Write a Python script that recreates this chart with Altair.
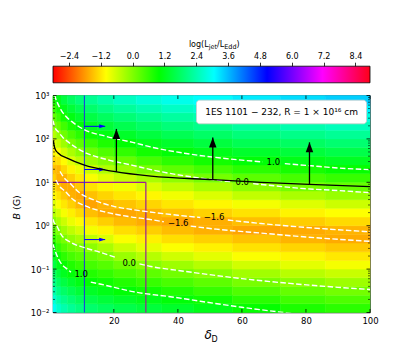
import altair as alt
import pandas as pd

FONT = "DejaVu Sans"
W, H = 317, 217

# ---------------- heat map: log(Ljet/LEdd) ----------------
delta_edges = [1, 2, 3.5, 5.5, 8, 11, 15, 20, 27, 35, 45, 57, 72, 86, 100]
logB_edges = [-2.0, -1.8, -1.6, -1.4, -1.2, -1.0, -0.8, -0.6, -0.4, -0.2, 0.0,
              0.2, 0.4, 0.6, 0.8, 1.0, 1.2, 1.4, 1.6, 1.8, 2.0, 2.2, 2.4, 2.6, 2.8, 3.0]

ljet_d01 = [3.00, 2.71, 2.42, 2.13, 1.84, 1.55, 1.26, 0.97, 0.63, 0.30, -0.04, -0.39, -0.75, -1.05, -1.20, -1.35, -1.50, -1.30, -1.10, -0.81, -0.42, -0.04, 0.25, 0.52, 0.79]
ljet_d02 = [2.65, 2.36, 2.07, 1.78, 1.49, 1.20, 0.91, 0.61, 0.31, 0.01, -0.32, -0.65, -0.97, -1.21, -1.45, -1.63, -1.57, -1.27, -0.97, -0.57, -0.15, 0.21, 0.53, 0.85, 1.17]
ljet_d03 = [2.41, 2.12, 1.83, 1.54, 1.25, 0.96, 0.66, 0.36, 0.06, -0.27, -0.60, -0.94, -1.18, -1.42, -1.65, -1.60, -1.31, -1.02, -0.65, -0.24, 0.14, 0.50, 0.86, 1.19, 1.50]
ljet_d04 = [2.22, 1.93, 1.64, 1.35, 1.06, 0.76, 0.46, 0.16, -0.16, -0.50, -0.85, -1.12, -1.36, -1.61, -1.64, -1.37, -1.08, -0.74, -0.34, 0.06, 0.43, 0.80, 1.14, 1.45, 1.76]
ljet_d05 = [2.03, 1.74, 1.45, 1.16, 0.88, 0.60, 0.32, 0.04, -0.32, -0.69, -1.02, -1.29, -1.56, -1.68, -1.43, -1.15, -0.85, -0.47, -0.08, 0.30, 0.68, 1.05, 1.36, 1.67, 1.98]
ljet_d06 = [1.88, 1.59, 1.30, 1.01, 0.74, 0.47, 0.20, -0.10, -0.50, -0.91, -1.21, -1.50, -1.72, -1.49, -1.22, -0.96, -0.60, -0.22, 0.15, 0.54, 0.92, 1.25, 1.56, 1.87, 2.18]
ljet_d07 = [1.75, 1.46, 1.17, 0.89, 0.61, 0.33, 0.06, -0.33, -0.73, -1.08, -1.38, -1.65, -1.60, -1.33, -1.07, -0.76, -0.39, -0.02, 0.38, 0.78, 1.14, 1.45, 1.76, 2.07, 2.38]
ljet_d08 = [1.61, 1.32, 1.03, 0.73, 0.43, 0.13, -0.21, -0.60, -0.97, -1.25, -1.53, -1.70, -1.46, -1.19, -0.92, -0.54, -0.17, 0.22, 0.62, 1.02, 1.33, 1.64, 1.95, 2.26, 2.57]
ljet_d09 = [1.48, 1.19, 0.89, 0.58, 0.27, -0.06, -0.43, -0.81, -1.11, -1.38, -1.64, -1.62, -1.33, -1.06, -0.72, -0.33, 0.06, 0.46, 0.86, 1.20, 1.51, 1.82, 2.13, 2.44, 2.75]
ljet_d10 = [1.35, 1.06, 0.75, 0.43, 0.11, -0.24, -0.62, -0.98, -1.25, -1.52, -1.70, -1.47, -1.19, -0.90, -0.51, -0.12, 0.27, 0.67, 1.05, 1.36, 1.67, 1.98, 2.29, 2.60, 2.91]
ljet_d11 = [1.19, 0.89, 0.58, 0.27, -0.06, -0.42, -0.79, -1.10, -1.36, -1.62, -1.63, -1.35, -1.06, -0.72, -0.32, 0.08, 0.47, 0.86, 1.20, 1.51, 1.82, 2.13, 2.44, 2.75, 3.06]
ljet_d12 = [0.97, 0.67, 0.37, 0.07, -0.27, -0.63, -0.97, -1.23, -1.48, -1.71, -1.51, -1.22, -0.92, -0.51, -0.10, 0.29, 0.67, 1.05, 1.36, 1.67, 1.98, 2.29, 2.60, 2.91, 3.22]
ljet_d13 = [0.79, 0.50, 0.21, -0.09, -0.44, -0.79, -1.08, -1.33, -1.59, -1.66, -1.39, -1.09, -0.74, -0.33, 0.08, 0.45, 0.83, 1.17, 1.48, 1.79, 2.10, 2.41, 2.72, 3.03, 3.34]
ljet_d14 = [0.67, 0.39, 0.10, -0.23, -0.57, -0.92, -1.17, -1.43, -1.66, -1.59, -1.28, -0.99, -0.60, -0.19, 0.21, 0.58, 0.96, 1.28, 1.59, 1.90, 2.21, 2.52, 2.83, 3.14, 3.45]

ljet_columns = [ljet_d01, ljet_d02, ljet_d03, ljet_d04, ljet_d05, ljet_d06, ljet_d07,
                ljet_d08, ljet_d09, ljet_d10, ljet_d11, ljet_d12, ljet_d13, ljet_d14]

# ---------------- contour lines (delta, log10 B), split where labels sit ----------------
up10_a_delta = [1.2, 1.6, 2.4, 3.4, 5.0, 7.2, 10.6, 17.5, 25.9, 33, 42, 51, 60, 66.5]
up10_a_logB = [3.2, 3.0, 2.83, 2.68, 2.52, 2.38, 2.22, 2.06, 1.92, 1.79, 1.67, 1.58, 1.51, 1.47]
up10_b_delta = [73.4, 81.6, 90, 100]
up10_b_logB = [1.43, 1.38, 1.33, 1.29]

up00_a_delta = [1.0, 1.5, 2.8, 4.0, 5.9, 10.3, 17.5, 25.9, 33, 42, 50, 57]
up00_a_logB = [2.42, 2.28, 2.15, 2.04, 1.92, 1.71, 1.53, 1.39, 1.27, 1.15, 1.07, 1.01]
up00_b_delta = [63.5, 70, 78.4, 90, 100]
up00_b_logB = [0.97, 0.92, 0.86, 0.81, 0.76]

m16u_a_delta = [3.2, 4.2, 6.7, 9.1, 13.5, 19.7, 26, 33, 40, 47]
m16u_a_logB = [1.25, 1.13, 0.95, 0.77, 0.60, 0.45, 0.37, 0.30, 0.24, 0.19]
m16u_b_delta = [55.6, 66, 80, 100]
m16u_b_logB = [0.13, 0.05, -0.04, -0.14]

m16l_a_delta = [1.9, 2.8, 4.8, 7.2, 11.3, 17.6, 24.8, 31.6, 35.6]
m16l_a_logB = [1.05, 0.93, 0.79, 0.61, 0.45, 0.31, 0.21, 0.14, 0.09]
m16l_b_delta = [44, 52, 66, 80, 100]
m16l_b_logB = [-0.01, -0.08, -0.17, -0.26, -0.36]

lo00_a_delta = [1.0, 1.3, 1.9, 3.5, 6.7, 10.6, 16, 21]
lo00_a_logB = [0.15, 0.08, 0.03, -0.20, -0.39, -0.50, -0.62, -0.74]
lo00_b_delta = [28, 31.6, 40, 47, 60, 75, 90, 100]
lo00_b_logB = [-0.88, -0.94, -1.03, -1.10, -1.22, -1.33, -1.42, -1.47]

lo10_a_delta = [1.0, 1.3, 2.8, 5.6, 6.6]
lo10_a_logB = [-0.43, -0.50, -0.78, -1.01, -1.07]
lo10_b_delta = [12.8, 16, 26, 39, 47, 60, 73, 80]
lo10_b_logB = [-1.30, -1.35, -1.52, -1.65, -1.74, -1.88, -2.0, -2.06]

label_text = ["1.0", "0.0", "\u22121.6", "\u22121.6", "0.0", "1.0"]
label_delta = [69.8, 60.1, 51.3, 40.1, 24.8, 9.8]
label_logB = [1.46, 1.0, 0.19, 0.06, -0.85, -1.12]

# black solid curve and its upward arrows
black_delta = [1.0, 1.6, 2.5, 5.6, 10.6, 20, 31.6, 51, 66, 81, 100]
black_logB = [1.97, 1.78, 1.68, 1.55, 1.40, 1.25, 1.14, 1.06, 1.0, 0.95, 0.90]
arrow_delta = [20.8, 50.9, 81.1]
arrow_base_logB = [1.24, 1.06, 0.95]
arrow_tip_logB = [2.23, 2.03, 1.92]

# blue line and its arrows
blue_delta = [10.8]
blue_arrow_logB = [2.29, 1.295, -0.32]
blue_arrow_end = [17.3, 17.3, 17.3]

# purple box edges
purple_x1 = [1, 30]
purple_x2 = [30, 30]
purple_B1 = [10, 10]
purple_B2 = [10, 0.01]

# colour bar
cbar_ticks = [-2.4, -1.2, 0.0, 1.2, 2.4, 3.6, 4.8, 6.0, 7.2, 8.4]
cbar_range = [-3.0, 8.95]
cmap_pos = [-3.0, -1.0, 1.0, 3.07, 5.07, 7.16, 8.95]
cmap_col = ["#ff0000", "#ffff00", "#00ff00", "#00ffff", "#0000ff", "#ff00ff", "#ff0018"]

# ---------------- tables ----------------
rows = []
for j, col in enumerate(ljet_columns):
    for i, v in enumerate(col):
        rows.append({"d_lo": delta_edges[j], "d_hi": delta_edges[j + 1],
                     "B_lo": 10 ** logB_edges[i], "B_hi": 10 ** logB_edges[i + 1], "f": v})
heat_df = pd.DataFrame(rows)

segs = {
    "up10a": (up10_a_delta, up10_a_logB), "up10b": (up10_b_delta, up10_b_logB),
    "up00a": (up00_a_delta, up00_a_logB), "up00b": (up00_b_delta, up00_b_logB),
    "m16ua": (m16u_a_delta, m16u_a_logB), "m16ub": (m16u_b_delta, m16u_b_logB),
    "m16la": (m16l_a_delta, m16l_a_logB), "m16lb": (m16l_b_delta, m16l_b_logB),
    "lo00a": (lo00_a_delta, lo00_a_logB), "lo00b": (lo00_b_delta, lo00_b_logB),
    "lo10a": (lo10_a_delta, lo10_a_logB), "lo10b": (lo10_b_delta, lo10_b_logB),
}
crow = []
for name, (dl, lb) in segs.items():
    for k, (d, b) in enumerate(zip(dl, lb)):
        crow.append({"delta": d, "B": 10 ** b, "seg": name, "ord": k})
cont_df = pd.DataFrame(crow)

black_df = pd.DataFrame({"delta": black_delta, "B": [10 ** b for b in black_logB], "ord": range(len(black_delta))})
arrow_df = pd.DataFrame({"delta": arrow_delta, "base": [10 ** b for b in arrow_base_logB],
                         "tip": [10 ** b for b in arrow_tip_logB]})
blue_df = pd.DataFrame({"delta": blue_delta})
barrow_df = pd.DataFrame({"start": blue_delta * 3, "end": blue_arrow_end,
                          "B": [10 ** b for b in blue_arrow_logB]})
purple_df = pd.DataFrame({"x1": purple_x1, "x2": purple_x2, "y1": purple_B1, "y2": purple_B2})
label_df = pd.DataFrame({"t": label_text, "delta": label_delta, "B": [10 ** b for b in label_logB]})
cb_df = pd.DataFrame({"lo": [cbar_range[0]], "hi": [cbar_range[1]]})
one = pd.DataFrame({"k": [0]})

xt_df = pd.DataFrame({"d": [20, 40, 60, 80, 100]})
ymaj_df = pd.DataFrame({"B": [0.01, 0.1, 1, 10, 100, 1000]})
ymin_df = pd.DataFrame({"B": [m * 10.0 ** k for k in range(-2, 3) for m in range(2, 10)]})

# ---------------- scales / axes ----------------
XS = alt.Scale(domain=[1, 100], nice=False, zero=False)
YS = alt.Scale(type="log", domain=[0.01, 1000], nice=False)
CS = alt.Scale(domain=cmap_pos, range=cmap_col, interpolate="rgb", clamp=True)
AX_X = alt.Axis(values=[20, 40, 60, 80, 100], title=None, ticks=False, domain=False, grid=False,
                labelFontSize=8.5, labelPadding=4, labelFlush=False, labelColor="black",
                labelFont=FONT, format="d")
AX_Y = alt.Axis(values=[0.01, 0.1, 1, 10, 100, 1000], title=None, ticks=False, domain=False, grid=False,
                labelFontSize=8.5, labelPadding=4, labelColor="black", labelFont=FONT,
                labelExpr="['10\u207b\u00b2','10\u207b\u00b9','10\u2070','10\u00b9','10\u00b2','10\u00b3'][round(log(datum.value)/LN10)+2]")


def X(f):
    return alt.X(f, scale=XS, axis=AX_X)


def Y(f):
    return alt.Y(f, scale=YS, axis=AX_Y)


def txt(s, x, y, size=9, align="left", baseline="alphabetic", style="normal", angle=0):
    m = dict(text=s, fontSize=size, align=align, baseline=baseline, fontStyle=style,
             color="black", font=FONT)
    if angle:
        m["angle"] = angle
    return alt.Chart(one).mark_text(**m).encode(x=alt.value(x), y=alt.value(y))


heat = alt.Chart(heat_df).mark_rect(strokeWidth=0.5).encode(
    x=X("d_lo:Q"), x2="d_hi:Q", y=Y("B_lo:Q"), y2="B_hi:Q",
    fill=alt.Fill("f:Q", scale=CS, legend=None),
    stroke=alt.Stroke("f:Q", scale=CS, legend=None))

purple = alt.Chart(purple_df).mark_rule(color="#9a1c9a", strokeWidth=1.2).encode(
    x=X("x1:Q"), x2="x2:Q", y=Y("y1:Q"), y2="y2:Q")

blue_v = alt.Chart(blue_df).mark_rule(color="#1f2fe8", strokeWidth=1).encode(
    x=X("delta:Q"), y=alt.value(0), y2=alt.value(H))
blue_shaft = alt.Chart(barrow_df).mark_rule(color="blue", strokeWidth=1).encode(
    x=X("start:Q"), x2="end:Q", y=Y("B:Q"))
blue_head = alt.Chart(barrow_df).mark_point(shape="M1,0L-1,-0.65L-1,0.65Z", size=36, filled=True,
                                            color="blue", opacity=1, xOffset=-3).encode(
    x=X("end:Q"), y=Y("B:Q"))

cont = alt.Chart(cont_df).mark_line(color="white", strokeWidth=1.4, strokeDash=[5.5, 2.4],
                                    interpolate="monotone", clip=True).encode(
    x=X("delta:Q"), y=Y("B:Q"), detail="seg:N", order="ord:Q")

black = alt.Chart(black_df).mark_line(color="black", strokeWidth=1.3, interpolate="monotone",
                                      clip=True).encode(x=X("delta:Q"), y=Y("B:Q"), order="ord:Q")
ar_shaft = alt.Chart(arrow_df).mark_rule(color="black", strokeWidth=1.3).encode(
    x=X("delta:Q"), y=Y("base:Q"), y2="tip:Q")
ar_head = alt.Chart(arrow_df).mark_point(shape="M0,-1L-0.75,1L0.75,1Z", size=100, filled=True,
                                         color="black", opacity=1, yOffset=5).encode(
    x=X("delta:Q"), y=Y("tip:Q"))

labels = alt.Chart(label_df).mark_text(fontSize=8.5, color="black", font=FONT, baseline="middle",
                                       align="center").encode(x=X("delta:Q"), y=Y("B:Q"), text="t:N")

box = alt.Chart(one).mark_rect(fill="white", stroke="#cccccc", strokeWidth=0.8, cornerRadius=3).encode(
    x=alt.value(143.5), x2=alt.value(313.5), y=alt.value(4.7), y2=alt.value(28.3))
box_text = txt("1ES 1101 \u2212 232,  R = 1 \u00d7 10\u00b9\u2076 cm", 228.6, 16.7, size=9,
               align="center", baseline="middle")

tick_b = alt.Chart(xt_df).mark_rule(color="black", strokeWidth=0.8).encode(
    x=X("d:Q"), y=alt.value(H), y2=alt.value(H - 3.5))
tick_t = alt.Chart(xt_df).mark_rule(color="black", strokeWidth=0.8).encode(
    x=X("d:Q"), y=alt.value(0), y2=alt.value(3.5))
tick_l = alt.Chart(ymaj_df).mark_rule(color="black", strokeWidth=0.8).encode(
    y=Y("B:Q"), x=alt.value(0), x2=alt.value(3.5))
tick_r = alt.Chart(ymaj_df).mark_rule(color="black", strokeWidth=0.8).encode(
    y=Y("B:Q"), x=alt.value(W), x2=alt.value(W - 3.5))
mtick_l = alt.Chart(ymin_df).mark_rule(color="black", strokeWidth=0.6).encode(
    y=Y("B:Q"), x=alt.value(0), x2=alt.value(2))
mtick_r = alt.Chart(ymin_df).mark_rule(color="black", strokeWidth=0.6).encode(
    y=Y("B:Q"), x=alt.value(W), x2=alt.value(W - 2))

xtitle = alt.layer(txt("\u03b4", 151.4, 243, size=12, style="italic"),
                   txt("D", 158.6, 246.5, size=8))
ytitle = alt.layer(txt("B", -35.9, 124, size=9.5, style="italic", baseline="middle", angle=270),
                   txt("(G)", -35.9, 114.5, size=9.5, baseline="middle", angle=270))

main = alt.layer(heat, purple, blue_v, blue_shaft, blue_head, cont, black, ar_shaft, ar_head,
                 labels, box, box_text, tick_b, tick_t, tick_l, tick_r, mtick_l, mtick_r,
                 xtitle, ytitle)

GRAD = alt.LinearGradient(
    gradient="linear", x1=0, x2=1, y1=0, y2=0,
    stops=[alt.GradientStop(color=c, offset=(p - cbar_range[0]) / (cbar_range[1] - cbar_range[0]))
           for p, c in zip(cmap_pos, cmap_col)])
AX_CB = alt.Axis(orient="top", offset=29.3, values=cbar_ticks, format=".1f", title=None, domain=False,
                 grid=False, tickSize=4, tickColor="black", tickWidth=0.8, labelFontSize=8,
                 labelPadding=1.5, labelFlush=False, labelOverlap=False, labelColor="black",
                 labelFont=FONT)
cbar = alt.Chart(cb_df).mark_rect(fill=GRAD, stroke="black", strokeWidth=0.8).encode(
    x=alt.X("lo:Q", scale=alt.Scale(domain=cbar_range, nice=False, zero=False), axis=AX_CB),
    x2="hi:Q", y=alt.value(-29.3), y2=alt.value(-12.7))

cb_title = alt.layer(
    txt("log(L", 135.9, -48.5, size=8),
    txt("jet", 155.7, -46.2, size=6.5),
    txt("/L", 164.0, -48.5, size=8),
    txt("Edd", 171.2, -46.2, size=6.5),
    txt(")", 183.6, -48.5, size=8),
)

chart = alt.layer(main, cbar, cb_title).resolve_scale(x="independent").properties(
    width=W, height=H, padding={"left": 4, "top": 32.5, "right": 5, "bottom": 5}
).configure_view(stroke="black", strokeWidth=0.8)

chart.save("out.html", embed_options={"renderer": "svg", "actions": False})
